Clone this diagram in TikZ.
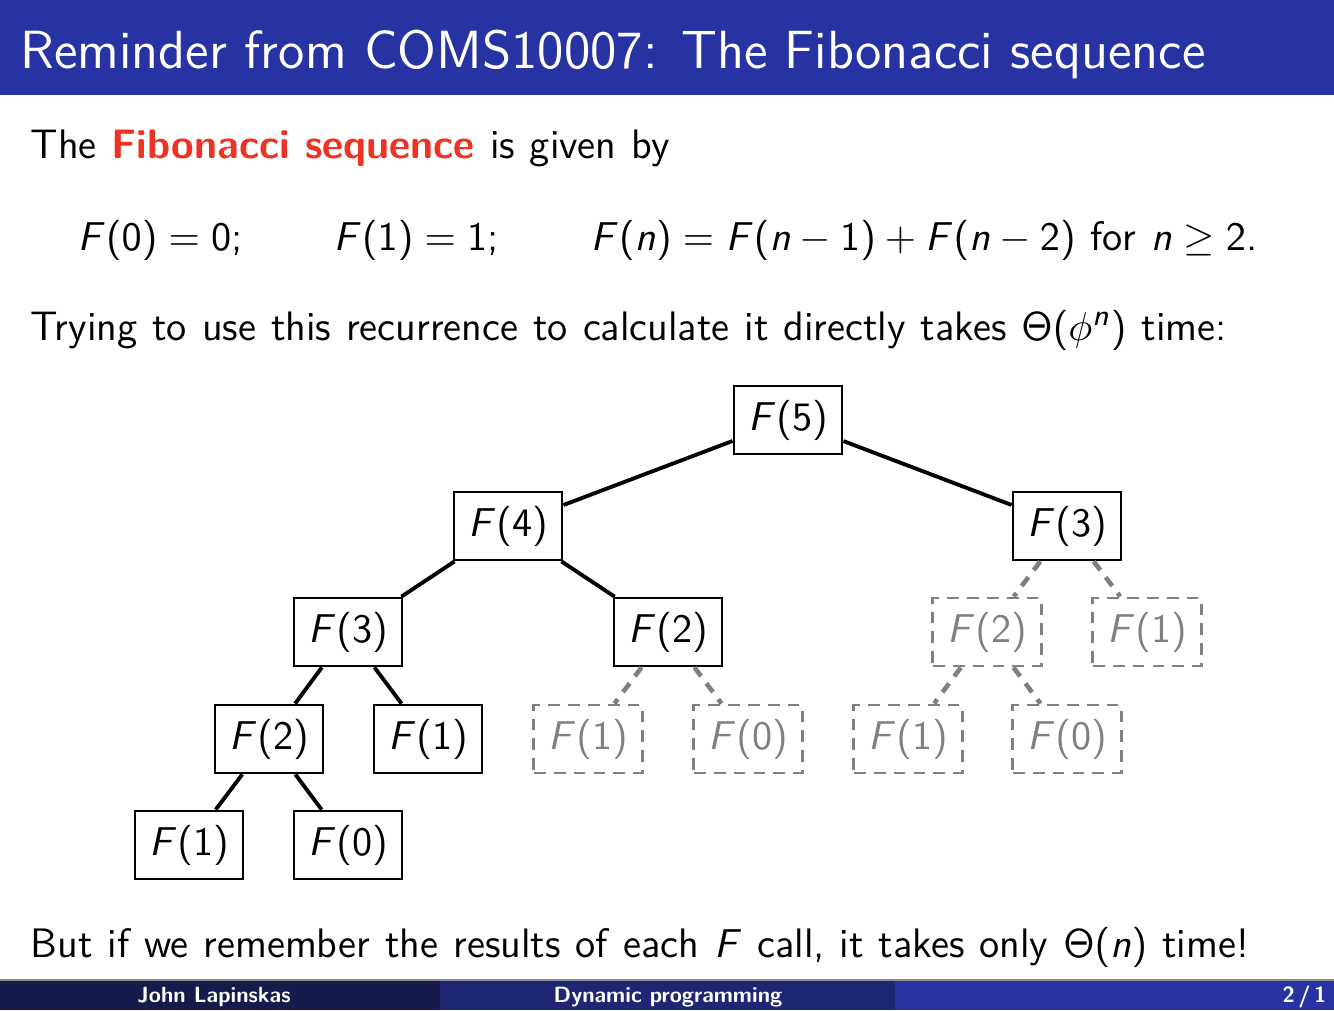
\documentclass[tikz,border=0pt]{standalone}
\SetSymbolFont{operators}{normal}{OT1}{cmss}{m}{n}
\DeclareSymbolFont{sfletters}{OT1}{cmss}{m}{sl}
\DeclareMathSymbol{F}{\mathalpha}{sfletters}{`F}
\DeclareMathSymbol{n}{\mathalpha}{sfletters}{`n}
\renewcommand{\familydefault}{\sfdefault}
\definecolor{titleblue}{RGB}{39,51,163}
\definecolor{footdark}{RGB}{22,27,75}
\definecolor{footmid}{RGB}{31,39,117}
\definecolor{alertred}{RGB}{238,50,36}
\definecolor{ghost}{RGB}{128,128,128}
\newcommand{\bodyfont}{\fontsize{11.2}{13.6}\selectfont\spaceskip=4.08pt plus 1.8pt minus 1.2pt\relax}
\tikzset{
  txt/.style={anchor=base west, inner sep=0pt, font=\bodyfont},
  callbox/.style={draw, line width=0.75pt, minimum width=29.4pt, minimum height=18.5pt, inner sep=0pt, font=\fontsize{11}{13.6}\selectfont},
  ghostbox/.style={draw=ghost, text=ghost, line width=0.8pt, dash pattern=on 3.2pt off 2.2pt, minimum width=29.4pt, minimum height=18.5pt, inner sep=0pt, font=\fontsize{11}{13.6}\selectfont},
  edge/.style={line width=1.05pt},
  ghostedge/.style={draw=ghost, line width=1.25pt, dash pattern=on 3pt off 2.4pt},
  foot/.style={text=white, inner sep=0pt, anchor=base, font=\fontsize{6}{7}\selectfont\bfseries}
}
\begin{document}
\begin{tikzpicture}[x=0.272pt,y=-0.272pt]
\useasboundingbox (0,0) rectangle (1334,1010);
% title bar
\fill[titleblue] (0,0) rectangle (1334,95);
\node[anchor=base west, inner sep=0pt, text=white, font=\fontsize{14.62}{17}\selectfont] (title) at (20,68) {Reminder from COMS10007: The Fibonacci sequence};
% body text
\node[txt] (t1) at (30,158) {The \textcolor{alertred}{\bfseries Fibonacci sequence} is given by};
\node[txt] (e1) at (77,250) {$F(0)=0;$};
\node[txt] (e2) at (333,250) {$F(1)=1;$};
\node[txt] (e3) at (590,250) {$F(n)=F(n-1)+F(n-2)$ for $n\geq 2$.};
\node[txt] (t2) at (30,340) {Trying to use this recurrence to calculate it directly takes $\Theta(\phi^n)$ time:};
\node[txt] (t3) at (30,957) {But if we remember the results of each $F$ call, it takes only $\Theta(n)$ time!};
% tree
\node[callbox] (f5) at (788,420) {$F(5)$};
\node[callbox] (f4) at (508,526) {$F(4)$};
\node[callbox] (f3r) at (1067,526) {$F(3)$};
\node[callbox] (f3) at (348,632) {$F(3)$};
\node[callbox] (f2a) at (668,632) {$F(2)$};
\node[ghostbox] (f2d) at (987,632) {$F(2)$};
\node[ghostbox] (f1d) at (1147,632) {$F(1)$};
\node[callbox] (f2) at (269,739) {$F(2)$};
\node[callbox] (f1a) at (428,739) {$F(1)$};
\node[ghostbox] (f1b) at (588,739) {$F(1)$};
\node[ghostbox] (f0b) at (748,739) {$F(0)$};
\node[ghostbox] (f1c) at (908,739) {$F(1)$};
\node[ghostbox] (f0c) at (1067,739) {$F(0)$};
\node[callbox] (f1e) at (189,845) {$F(1)$};
\node[callbox] (f0e) at (348,845) {$F(0)$};
\draw[edge] (f5) -- (f4);
\draw[edge] (f5) -- (f3r);
\draw[edge] (f4) -- (f3);
\draw[edge] (f4) -- (f2a);
\draw[edge] (f3) -- (f2);
\draw[edge] (f3) -- (f1a);
\draw[edge] (f2) -- (f1e);
\draw[edge] (f2) -- (f0e);
\draw[ghostedge] (f2a) -- (f1b);
\draw[ghostedge] (f2a) -- (f0b);
\draw[ghostedge] (f3r) -- (f2d);
\draw[ghostedge] (f3r) -- (f1d);
\draw[ghostedge] (f2d) -- (f1c);
\draw[ghostedge] (f2d) -- (f0c);
% footer
\fill[footdark] (0,980) rectangle (440,1010);
\fill[footmid] (440,980) rectangle (895,1010);
\fill[titleblue] (895,980) rectangle (1334,1010);
\draw[black!45, line width=0.3pt] (0,980) -- (1334,980);
\node[foot] (author) at (214,1002) {John Lapinskas};
\node[foot] (talk) at (668,1002) {Dynamic programming};
\node[foot, anchor=base east] (page) at (1327,1002) {2\,/\,1};
\end{tikzpicture}
\end{document}
